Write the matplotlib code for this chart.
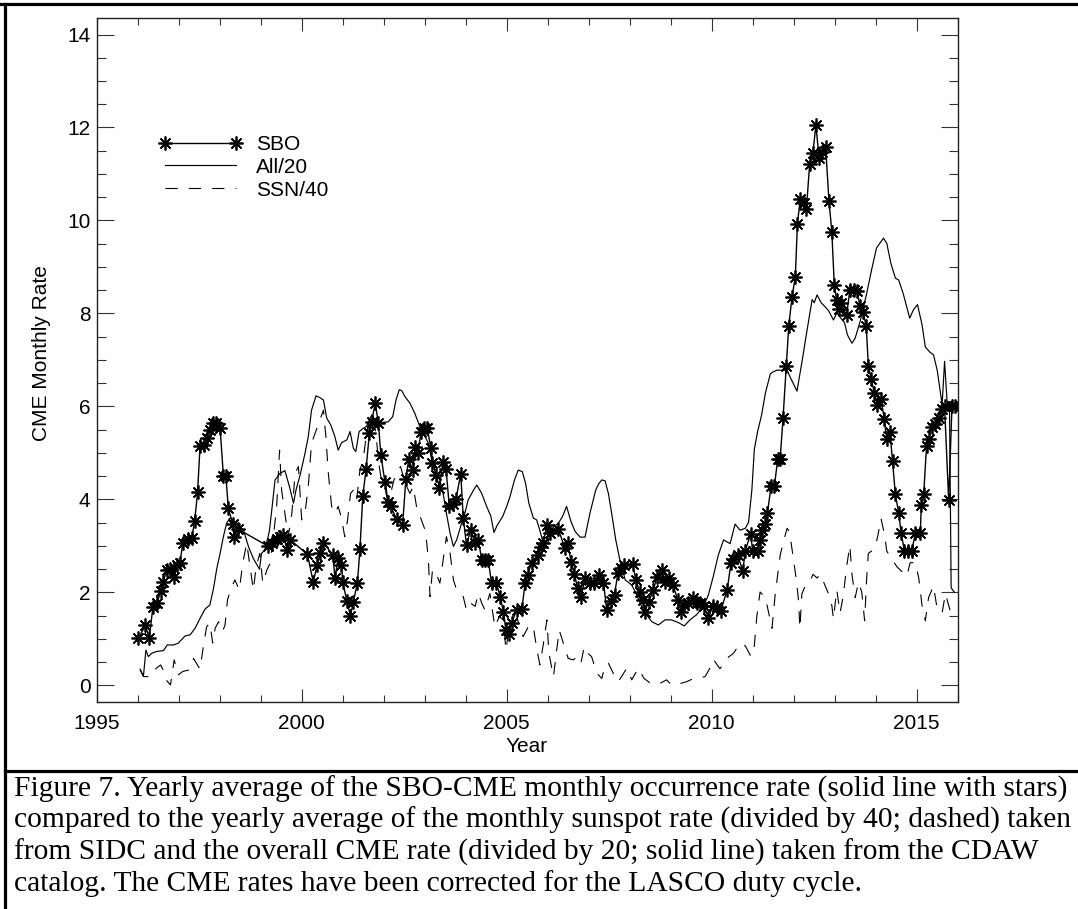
import matplotlib
matplotlib.use("Agg")
import matplotlib.pyplot as plt
from matplotlib.lines import Line2D
from matplotlib.ticker import MultipleLocator

# SBO-CME monthly rate (yearly running average)
sbo_year = [1996.01, 1996.19, 1996.28, 1996.37, 1996.48, 1996.56, 1996.62, 1996.71, 1996.79, 1996.89,
            1996.97, 1997.03, 1997.10, 1997.22, 1997.32, 1997.39, 1997.46, 1997.52, 1997.61, 1997.68,
            1997.76, 1997.84, 1997.92, 1998.01, 1998.09, 1998.15, 1998.21, 1998.32, 1998.35, 1998.45,
            1999.19, 1999.27, 1999.39, 1999.47, 1999.55, 1999.65, 1999.72, 2000.14, 2000.28, 2000.38,
            2000.45, 2000.53, 2000.76, 2000.81, 2000.89, 2000.97, 2001.00, 2001.10, 2001.19, 2001.26,
            2001.36, 2001.42, 2001.49, 2001.57, 2001.65, 2001.71, 2001.79, 2001.87, 2001.93, 2002.03,
            2002.11, 2002.17, 2002.32, 2002.46, 2002.54, 2002.61, 2002.71, 2002.77, 2002.83, 2002.91,
            2002.99, 2003.06, 2003.15, 2003.19, 2003.28, 2003.36, 2003.44, 2003.52, 2003.60, 2003.68,
            2003.76, 2003.88, 2003.94, 2004.02, 2004.12, 2004.23, 2004.31, 2004.39, 2004.47, 2004.55,
            2004.63, 2004.75, 2004.84, 2004.92, 2004.98, 2005.05, 2005.12, 2005.24, 2005.37, 2005.45,
            2005.51, 2005.61, 2005.76, 2005.84, 2005.89, 2005.98, 2006.06, 2006.26, 2006.42, 2006.49,
            2006.57, 2006.65, 2006.73, 2006.81, 2006.91, 2007.03, 2007.14, 2007.26, 2007.36, 2007.44,
            2007.54, 2007.63, 2007.71, 2007.79, 2007.86, 2008.07, 2008.15, 2008.24, 2008.32, 2008.37,
            2008.46, 2008.58, 2008.66, 2008.78, 2008.86, 2008.96, 2009.06, 2009.17, 2009.25, 2009.33,
            2009.43, 2009.55, 2009.63, 2009.72, 2009.82, 2009.92, 2010.02, 2010.12, 2010.22, 2010.38,
            2010.47, 2010.53, 2010.63, 2010.76, 2010.82, 2010.95, 2011.00, 2011.12, 2011.18, 2011.22,
            2011.31, 2011.36, 2011.45, 2011.53, 2011.61, 2011.67, 2011.74, 2011.82, 2011.88, 2011.96,
            2012.04, 2012.09, 2012.16, 2012.24, 2012.31, 2012.39, 2012.47, 2012.54, 2012.62, 2012.70,
            2012.78, 2012.86, 2012.93, 2012.99, 2013.05, 2013.11, 2013.15, 2013.29, 2013.37, 2013.47,
            2013.55, 2013.61, 2013.69, 2013.77, 2013.82, 2013.89, 2013.97, 2014.03, 2014.13, 2014.21,
            2014.27, 2014.35, 2014.41, 2014.48, 2014.56, 2014.62, 2014.70, 2014.79, 2014.88, 2014.97,
            2015.09, 2015.11, 2015.17, 2015.24, 2015.29, 2015.37, 2015.45, 2015.54, 2015.62, 2015.68,
            2015.78, 2015.86, 2015.94]
sbo_rate = [1.01, 1.29, 1.01, 1.68, 1.78, 2.04, 2.23, 2.48, 2.50, 2.34,
            2.59, 2.64, 3.06, 3.16, 3.18, 3.54, 4.15, 5.14, 5.17, 5.32,
            5.50, 5.64, 5.65, 5.53, 4.51, 4.51, 3.81, 3.47, 3.20, 3.36,
            2.99, 3.06, 3.16, 3.20, 3.24, 2.91, 3.13, 2.82, 2.23, 2.59,
            2.84, 3.07, 2.81, 2.30, 2.75, 2.59, 2.23, 1.82, 1.50, 1.80,
            2.21, 2.93, 4.07, 4.65, 5.42, 5.67, 6.08, 5.65, 4.96, 4.38,
            3.95, 3.85, 3.57, 3.44, 4.43, 4.86, 4.63, 5.12, 5.00, 5.44,
            5.53, 5.54, 5.11, 4.79, 4.53, 4.25, 4.80, 4.66, 3.85, 3.90,
            4.00, 4.55, 3.60, 3.02, 3.34, 3.06, 3.13, 2.70, 2.70, 2.70,
            2.20, 2.20, 1.91, 1.59, 1.19, 1.10, 1.34, 1.62, 1.64, 2.21,
            2.38, 2.64, 2.81, 2.97, 3.06, 3.44, 3.27, 3.36, 2.95, 3.06,
            2.66, 2.40, 2.09, 1.91, 2.30, 2.21, 2.21, 2.38, 2.21, 1.62,
            1.82, 1.95, 2.41, 2.52, 2.59, 2.61, 2.27, 2.02, 1.84, 1.59,
            1.80, 2.05, 2.34, 2.48, 2.23, 2.30, 2.16, 1.84, 1.59, 1.73,
            1.77, 1.87, 1.77, 1.77, 1.70, 1.44, 1.70, 1.68, 1.60, 2.06,
            2.64, 2.72, 2.80, 2.47, 2.90, 3.26, 2.89, 2.89, 3.13, 3.34,
            3.47, 3.71, 4.30, 4.30, 4.86, 4.88, 5.75, 6.87, 7.74, 8.36,
            8.79, 9.92, 10.47, 10.38, 10.25, 11.22, 11.46, 12.05, 11.35, 11.47,
            11.57, 10.42, 9.76, 8.61, 8.28, 8.10, 8.22, 7.96, 8.51, 8.51,
            8.49, 8.17, 8.04, 7.72, 6.88, 6.58, 6.29, 6.04, 6.16, 5.72,
            5.29, 5.44, 4.83, 4.11, 3.71, 3.28, 2.90, 2.90, 2.90, 3.28,
            3.28, 3.88, 4.11, 5.14, 5.29, 5.56, 5.62, 5.75, 5.95, 6.00,
            3.98, 6.00, 6.00]

# Overall CDAW CME rate divided by 20
all_year = [1996.06, 1996.14, 1996.20, 1996.26, 1996.34, 1996.46, 1996.63, 1996.72, 1996.87, 1996.99,
            1997.15, 1997.28, 1997.40, 1997.52, 1997.64, 1997.76, 1997.85, 1997.93, 1998.01, 1998.09,
            1998.17, 1998.25, 1998.41, 1998.58, 1998.70, 1998.82, 1998.97, 1999.02, 1999.10, 1999.21,
            1999.27, 1999.35, 1999.47, 1999.59, 1999.70, 1999.80, 1999.86, 1999.96, 2000.08, 2000.16,
            2000.24, 2000.35, 2000.46, 2000.53, 2000.61, 2000.71, 2000.81, 2000.89, 2000.97, 2001.10,
            2001.18, 2001.26, 2001.32, 2001.40, 2001.50, 2001.58, 2001.71, 2001.79, 2001.91, 2002.11,
            2002.22, 2002.30, 2002.38, 2002.44, 2002.52, 2002.64, 2002.76, 2002.88, 2003.01, 2003.09,
            2003.17, 2003.25, 2003.37, 2003.45, 2003.53, 2003.62, 2003.70, 2003.78, 2003.90, 2003.98,
            2004.06, 2004.19, 2004.27, 2004.39, 2004.51, 2004.61, 2004.69, 2004.77, 2004.90, 2005.00,
            2005.08, 2005.19, 2005.28, 2005.38, 2005.46, 2005.54, 2005.65, 2005.73, 2005.81, 2005.89,
            2006.02, 2006.06, 2006.26, 2006.36, 2006.46, 2006.57, 2006.67, 2006.79, 2006.91, 2007.03,
            2007.11, 2007.17, 2007.24, 2007.32, 2007.40, 2007.48, 2007.56, 2007.66, 2007.76, 2007.89,
            2008.05, 2008.17, 2008.29, 2008.41, 2008.54, 2008.70, 2008.86, 2009.02, 2009.19, 2009.33,
            2009.47, 2009.63, 2009.80, 2009.92, 2010.04, 2010.16, 2010.29, 2010.45, 2010.57, 2010.69,
            2010.82, 2010.90, 2010.98, 2011.04, 2011.12, 2011.22, 2011.31, 2011.43, 2011.49, 2011.59,
            2011.71, 2011.84, 2011.92, 2012.08, 2012.20, 2012.32, 2012.45, 2012.50, 2012.57, 2012.67,
            2012.76, 2012.85, 2012.97, 2013.05, 2013.24, 2013.31, 2013.42, 2013.50, 2013.62, 2013.78,
            2013.90, 2014.02, 2014.19, 2014.27, 2014.37, 2014.48, 2014.56, 2014.67, 2014.83, 2014.92,
            2015.02, 2015.13, 2015.21, 2015.33, 2015.41, 2015.50, 2015.58, 2015.62, 2015.68, 2015.74,
            2015.80, 2015.84, 2015.92]
all_rate = [0.35, 0.20, 0.76, 0.62, 0.69, 0.73, 0.75, 0.87, 0.87, 0.91,
            1.06, 1.09, 1.23, 1.44, 1.64, 1.73, 2.09, 2.52, 2.84, 3.20,
            3.49, 3.60, 3.49, 3.34, 2.99, 2.73, 2.50, 2.84, 2.91, 3.31,
            3.77, 4.42, 4.56, 4.62, 4.28, 3.92, 4.20, 4.52, 4.99, 5.35,
            5.92, 6.23, 6.18, 6.14, 5.75, 5.60, 5.35, 5.06, 5.22, 5.28,
            5.46, 5.10, 5.03, 5.46, 5.53, 5.57, 5.82, 5.71, 5.65, 5.67,
            5.78, 6.14, 6.36, 6.34, 6.21, 6.07, 5.85, 5.57, 5.35, 5.21,
            4.85, 4.63, 4.42, 4.13, 3.70, 3.27, 2.99, 3.13, 3.49, 3.70,
            3.99, 4.20, 4.31, 4.13, 3.85, 3.65, 3.29, 3.45, 3.63, 3.85,
            4.06, 4.42, 4.63, 4.60, 4.35, 3.92, 3.60, 3.56, 3.33, 3.06,
            3.09, 3.34, 3.49, 3.63, 3.85, 3.52, 3.31, 3.19, 3.19, 3.70,
            3.99, 4.20, 4.33, 4.42, 4.40, 4.13, 3.70, 3.13, 2.70, 2.27,
            2.16, 1.95, 1.70, 1.52, 1.37, 1.30, 1.41, 1.41, 1.35, 1.28,
            1.41, 1.52, 1.70, 1.95, 2.35, 2.80, 3.13, 3.05, 3.47, 3.34,
            3.38, 3.51, 4.21, 5.08, 5.46, 5.83, 6.29, 6.70, 6.74, 6.78,
            6.78, 6.78, 6.62, 6.33, 6.95, 7.61, 8.30, 8.23, 8.40, 8.23,
            8.15, 8.06, 7.86, 8.01, 7.80, 7.54, 7.36, 7.47, 7.83, 8.43,
            8.94, 9.41, 9.62, 9.51, 9.08, 8.76, 8.72, 8.43, 7.90, 8.08,
            8.19, 7.76, 7.28, 7.16, 7.11, 6.78, 6.29, 6.04, 6.97, 6.12,
            6.05, 2.10, 2.00]

# Monthly sunspot number (SIDC) divided by 40
ssn_year = [1996.06, 1996.14, 1996.26, 1996.37, 1996.45, 1996.56, 1996.64, 1996.71, 1996.80, 1996.89,
            1996.99, 1997.10, 1997.24, 1997.36, 1997.52, 1997.60, 1997.68, 1997.76, 1997.83, 1997.89,
            1997.97, 1998.07, 1998.13, 1998.19, 1998.28, 1998.37, 1998.48, 1998.56, 1998.66, 1998.74,
            1998.82, 1998.89, 1998.98, 1999.05, 1999.15, 1999.23, 1999.31, 1999.39, 1999.46, 1999.51,
            1999.59, 1999.67, 1999.76, 1999.84, 1999.92, 2000.00, 2000.08, 2000.16, 2000.24, 2000.53,
            2000.59, 2000.65, 2000.73, 2000.81, 2000.89, 2000.97, 2001.05, 2001.12, 2001.19, 2001.26,
            2001.34, 2001.42, 2001.50, 2001.58, 2001.65, 2001.73, 2001.81, 2001.87, 2001.93, 2002.01,
            2002.09, 2002.17, 2002.25, 2002.33, 2002.41, 2002.48, 2002.56, 2002.64, 2002.72, 2002.80,
            2002.89, 2003.01, 2003.05, 2003.09, 2003.13, 2003.19, 2003.25, 2003.37, 2003.45, 2003.53,
            2003.62, 2003.70, 2003.78, 2003.94, 2004.02, 2004.12, 2004.23, 2004.31, 2004.39, 2004.47,
            2004.59, 2004.71, 2004.82, 2004.92, 2004.98, 2005.04, 2005.25, 2005.40, 2005.55, 2005.65,
            2005.73, 2005.81, 2005.89, 2005.98, 2006.03, 2006.14, 2006.22, 2006.28, 2006.38, 2006.50,
            2006.63, 2006.71, 2006.81, 2006.89, 2006.98, 2007.07, 2007.20, 2007.32, 2007.40, 2007.48,
            2007.60, 2007.72, 2007.93, 2008.05, 2008.21, 2008.35, 2008.50, 2008.66, 2008.90, 2009.02,
            2009.19, 2009.39, 2009.51, 2009.67, 2009.84, 2010.00, 2010.04, 2010.20, 2010.41, 2010.53,
            2010.69, 2010.82, 2010.94, 2011.02, 2011.10, 2011.18, 2011.31, 2011.47, 2011.55, 2011.67,
            2011.76, 2011.84, 2011.90, 2011.98, 2012.06, 2012.12, 2012.15, 2012.20, 2012.28, 2012.39,
            2012.47, 2012.57, 2012.65, 2012.77, 2012.85, 2012.93, 2012.97, 2013.05, 2013.13, 2013.21,
            2013.29, 2013.37, 2013.42, 2013.50, 2013.58, 2013.66, 2013.73, 2013.78, 2013.82, 2013.90,
            2013.99, 2014.07, 2014.13, 2014.22, 2014.27, 2014.39, 2014.52, 2014.76, 2014.84, 2014.97,
            2015.05, 2015.13, 2015.21, 2015.29, 2015.41, 2015.50, 2015.62, 2015.70, 2015.82, 2015.94]
ssn_rate = [0.33, 0.19, 0.19, 0.22, 0.37, 0.44, 0.30, 0.10, 0.01, 0.55,
            0.23, 0.30, 0.33, 0.58, 0.35, 0.83, 1.26, 1.34, 0.91, 1.23,
            1.37, 1.16, 1.30, 1.84, 2.09, 2.27, 2.05, 2.63, 3.06, 2.56,
            2.05, 2.56, 2.84, 2.20, 2.48, 2.63, 3.20, 3.85, 5.06, 4.20,
            3.70, 3.20, 3.70, 4.56, 4.71, 3.56, 3.70, 4.28, 5.21, 5.92,
            5.35, 4.56, 3.85, 3.70, 3.85, 3.60, 3.20, 3.56, 4.13, 4.20,
            3.99, 4.63, 4.85, 5.42, 5.71, 5.85, 5.42, 4.85, 4.49, 4.35,
            3.99, 4.13, 4.42, 4.56, 4.71, 4.49, 4.28, 4.13, 4.28, 3.85,
            3.63, 3.34, 3.06, 2.70, 1.91, 2.48, 2.48, 2.20, 2.70, 3.20,
            2.84, 2.27, 2.05, 1.91, 1.62, 1.77, 1.70, 1.98, 1.77, 1.62,
            1.98, 1.26, 1.48, 1.41, 0.76, 1.12, 1.45, 1.05, 1.30, 1.26,
            0.80, 0.44, 0.87, 1.41, 0.69, 0.19, 0.76, 1.19, 0.91, 0.58,
            0.55, 0.62, 0.48, 0.83, 0.69, 0.62, 0.26, 0.15, 0.44, 0.48,
            0.26, 0.08, 0.37, 0.12, 0.37, 0.15, 0.05, 0.01, 0.12, 0.01,
            0.03, 0.08, 0.13, 0.15, 0.19, 0.44, 0.56, 0.36, 0.61, 0.69,
            0.90, 0.85, 0.65, 0.65, 1.48, 2.01, 1.89, 1.23, 1.97, 2.80,
            3.13, 3.38, 3.30, 2.80, 2.30, 1.81, 1.23, 1.97, 2.14, 2.22,
            2.39, 2.31, 2.39, 2.14, 1.97, 1.72, 1.43, 2.06, 1.56, 1.93,
            2.55, 3.01, 2.39, 1.89, 2.22, 2.01, 1.39, 2.31, 2.84, 2.89,
            2.97, 3.30, 3.59, 3.22, 2.89, 2.72, 2.55, 2.35, 2.64, 2.64,
            2.31, 1.72, 1.39, 1.89, 2.14, 1.64, 1.56, 1.97, 1.60, 1.48]

x_major_ticks = [1995, 2000, 2005, 2010, 2015]
y_major_ticks = [0, 2, 4, 6, 8, 10, 12, 14]
legend_labels = ["SBO", "All/20", "SSN/40"]
caption_lines = [
    "Figure 7. Yearly average of the SBO-CME monthly occurrence rate (solid line with stars)",
    "compared to the yearly average of the monthly sunspot rate (divided by 40; dashed) taken",
    "from SIDC and the overall CME rate (divided by 20; solid line) taken from the CDAW",
    "catalog. The CME rates have been corrected for the LASCO duty cycle.",
]

plt.rcParams["font.family"] = ["Liberation Sans", "DejaVu Sans"]
LABEL_SIZE = 15

W, H = 1078, 909
fig = plt.figure(figsize=(W / 100, H / 100), dpi=100)
fig.patch.set_facecolor("white")

# axes box in pixel units
left, right, top, bottom = 96.7, 957.7, 18.0, 701.7
ax = fig.add_axes([left / W, 1 - bottom / H, (right - left) / W, (bottom - top) / H])

asterisk = (8, 2, 0)
h_all, = ax.plot(all_year, all_rate, color="black", lw=0.85)
h_ssn, = ax.plot(ssn_year, ssn_rate, color="black", lw=0.8,
                 linestyle=(0, (11, 10)), dash_capstyle="butt")
h_sbo, = ax.plot(sbo_year, sbo_rate, color="black", lw=1.0, marker=asterisk,
                 markersize=10, markeredgewidth=1.25)

ax.set_xlim(1995, 2016)
ax.set_ylim(-0.35, 14.355)
ax.set_xticks(x_major_ticks)
ax.set_yticks(y_major_ticks)
ax.xaxis.set_minor_locator(MultipleLocator(1))
ax.yaxis.set_minor_locator(MultipleLocator(0.5))

ax.tick_params(which="both", direction="in", top=True, right=True,
               color="#333333", width=0.8, labelsize=LABEL_SIZE)
ax.tick_params(axis="x", which="major", length=9.5, pad=8.5)
ax.tick_params(axis="x", which="minor", length=5)
ax.tick_params(axis="y", which="major", length=12.5, pad=4.5)
ax.tick_params(axis="y", which="minor", length=6.5)
for sp in ax.spines.values():
    sp.set_linewidth(1.0)
    sp.set_color("#222222")

ax.set_xlabel("Year", fontsize=LABEL_SIZE, va="center")
ax.xaxis.set_label_coords((527 - left) / (right - left), (bottom - 747) / (bottom - top))
ax.set_ylabel("CME Monthly Rate", fontsize=LABEL_SIZE, va="center")
ax.yaxis.set_label_coords((42 - left) / (right - left), (bottom - 353) / (bottom - top))

leg = ax.legend([h_sbo, h_all, h_ssn], legend_labels, loc="upper left",
                bbox_to_anchor=((159 - left) / (right - left), (bottom - 135) / (bottom - top)),
                frameon=False, fontsize=LABEL_SIZE, numpoints=2, handlelength=4.0,
                handletextpad=0.65, labelspacing=0.18, borderpad=0, borderaxespad=0)

# page frame: top and left border, and the rule above the caption
frame_kw = dict(color="black", lw=2.3, transform=fig.transFigure)
fig.add_artist(Line2D([0, 1], [1 - 4 / H, 1 - 4 / H], **frame_kw))
fig.add_artist(Line2D([5 / W, 5 / W], [0, 1 - 4 / H], **frame_kw))
fig.add_artist(Line2D([5 / W, 1], [1 - 771 / H, 1 - 771 / H], **frame_kw))

# caption, sized so its longest line spans the page width
baselines = [797, 828, 860, 891]
x0, right_edge = 14, 1072
probes = [fig.text(x0 / W, 0.5, s, fontsize=20, family="Liberation Serif") for s in caption_lines]
fig.canvas.draw()
widest = max(p.get_window_extent().width for p in probes)
for p in probes:
    p.remove()
cap_size = 20 * (right_edge - x0) / widest
for line, yb in zip(caption_lines, baselines):
    fig.text(x0 / W, 1 - yb / H, line, fontsize=cap_size, family="Liberation Serif",
             va="baseline", ha="left")

fig.savefig("out.png", dpi=100, facecolor="white")
